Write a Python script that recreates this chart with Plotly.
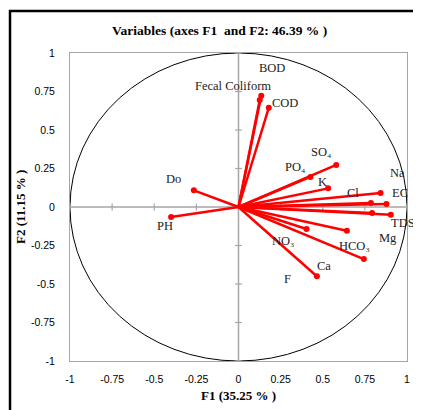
import numpy as np
import plotly.graph_objects as go

# Variable loadings (F1, F2)
variables = ["BOD", "Fecal Coliform", "COD", "Do", "PH", "SO₄", "PO₄", "K", "Cl",
             "Na", "EC", "TDS", "Mg", "NO₃", "HCO₃", "Ca", "F"]
f1 = [0.135, 0.126, 0.180, -0.265, -0.400, 0.580, 0.427, 0.532, 0.843,
      0.878, 0.786, 0.904, 0.793, 0.404, 0.643, 0.744, 0.465]
f2 = [0.723, 0.695, 0.645, 0.108, -0.065, 0.273, 0.195, 0.121, 0.091,
      0.019, 0.026, -0.050, -0.039, -0.143, -0.154, -0.338, -0.450]
# label anchor positions (data units)
label_x = [0.196, -0.03, 0.273, -0.386, -0.439, 0.487, 0.338, 0.50, 0.677,
           0.944, 0.961, 0.979, 0.89, 0.267, 0.688, 0.51, 0.291]
label_y = [0.903, 0.786, 0.675, 0.182, -0.123, 0.357, 0.26, 0.162, 0.091,
           0.221, 0.091, -0.104, -0.2, -0.22, -0.253, -0.383, -0.468]
tick_vals = [-1, -0.75, -0.5, -0.25, 0, 0.25, 0.5, 0.75, 1]
tick_text = ["-1", "-0.75", "-0.5", "-0.25", "0", "0.25", "0.5", "0.75", "1"]

title_text = "<b>Variables (axes F1  and F2: 46.39 % )</b>"
x_title = "<b>F1 (35.25 % )</b>"
y_title = "<b>F2 (11.15 % )</b>"

fig = go.Figure()

lx, ly = [], []
for a, b in zip(f1, f2):
    lx += [0, a, None]
    ly += [0, b, None]
fig.add_trace(go.Scatter(x=lx, y=ly, mode="lines",
                         line=dict(color="#ff0000", width=2.5),
                         hoverinfo="skip", showlegend=False))
fig.add_trace(go.Scatter(x=f1, y=f2, mode="markers",
                         marker=dict(color="#ff0000", size=6),
                         text=variables, showlegend=False))

serif = "Liberation Serif, Times New Roman, serif"
for name, x, y in zip(variables, label_x, label_y):
    fig.add_annotation(x=x, y=y, text=name, showarrow=False,
                       font=dict(family=serif, size=12.5, color="#222"))

shapes = []
# unit circle
shapes.append(dict(type="circle", xref="x", yref="y", x0=-1, x1=1, y0=-1, y1=1,
                   line=dict(color="black", width=1), layer="below"))
# cross axes
shapes.append(dict(type="line", xref="x", yref="y", x0=-1, x1=1, y0=0, y1=0,
                   line=dict(color="#a6a6a6", width=1.5), layer="below"))
shapes.append(dict(type="line", xref="x", yref="y", x0=0, x1=0, y0=-1, y1=1,
                   line=dict(color="#a6a6a6", width=1.5), layer="below"))
for t in tick_vals:
    shapes.append(dict(type="line", xref="x", yref="y", x0=t, x1=t, y0=-0.022, y1=0.022,
                       line=dict(color="#a6a6a6", width=1.2), layer="below"))
    shapes.append(dict(type="line", xref="x", yref="y", x0=-0.02, x1=0.02, y0=t, y1=t,
                       line=dict(color="#a6a6a6", width=1.2), layer="below"))
# outer frame (cropped at right/bottom)
shapes.append(dict(type="rect", xref="paper", yref="paper",
                   x0=-0.178, x1=1.2, y0=-0.4, y1=1.136,
                   line=dict(color="black", width=2.5)))
fig.update_layout(shapes=shapes)

fig.add_annotation(xref="paper", yref="paper", x=0.445, y=1.0, yshift=23,
                   text=title_text, showarrow=False, yanchor="middle",
                   font=dict(family=serif, size=13.5, color="black"))
fig.add_annotation(xref="paper", yref="paper", x=0.5, y=0, yshift=-34,
                   text=x_title, showarrow=False, yanchor="middle",
                   font=dict(family=serif, size=13, color="black"))
fig.add_annotation(xref="paper", yref="paper", x=0, xshift=-50, y=0.5,
                   text=y_title, showarrow=False, textangle=-90, xanchor="center",
                   font=dict(family=serif, size=13, color="black"))

axis_common = dict(range=[-1, 1], tickvals=tick_vals, ticktext=tick_text,
                   showgrid=False, zeroline=False, showline=True, mirror=True,
                   linecolor="#a6a6a6", linewidth=1, ticks="",
                   tickfont=dict(family="Liberation Sans, Arial, sans-serif", size=10.5, color="black"),
                   fixedrange=True, automargin=False)
fig.update_xaxes(**axis_common, ticklabelstandoff=8)
fig.update_yaxes(**axis_common, ticklabelstandoff=12)

# page body adds an 8px offset, so the figure is sized to fit the window
fig.update_layout(width=413, height=402,
                  margin=dict(l=62, r=14, t=45, b=49),
                  paper_bgcolor="white", plot_bgcolor="white",
                  showlegend=False)

fig.write_html("out.html")
